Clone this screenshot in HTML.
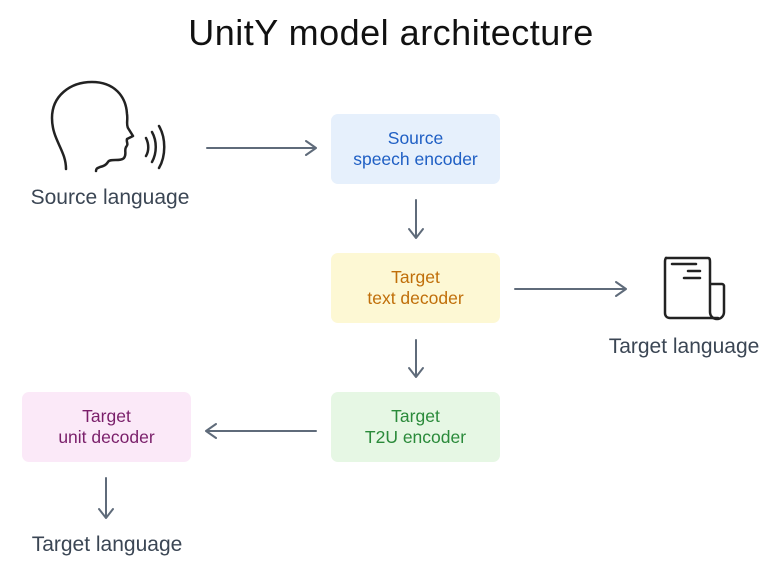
<!DOCTYPE html>
<html><head><meta charset="utf-8"><style>
body{margin:0;width:772px;height:571px;background:#fff;position:relative;overflow:hidden;font-family:"Liberation Sans",sans-serif}
.t{position:absolute;white-space:nowrap;text-align:center}
.box{position:absolute;width:169px;height:70px;border-radius:7px;display:flex;align-items:center;justify-content:center;text-align:center;font-size:17.5px;line-height:21px}
.lbl{position:absolute;font-size:21px;color:#3b4654;white-space:nowrap;transform:translateX(-50%)}
</style></head><body>
<div class="t" style="left:0;width:782px;top:12px;font-size:36px;color:#111;letter-spacing:0.5px">UnitY model architecture</div>
<div class="box" style="left:331px;top:114px;background:#e6f0fc;color:#1f5fc4">Source<br>speech encoder</div>
<div class="box" style="left:331px;top:253px;background:#fdf8d4;color:#c06f0a">Target<br>text decoder</div>
<div class="box" style="left:331px;top:392px;background:#e6f7e4;color:#2a8a3a">Target<br>T2U encoder</div>
<div class="box" style="left:22px;top:392px;background:#fbe9f8;color:#7a1f6a">Target<br>unit decoder</div>
<div class="lbl" style="left:110px;top:186px">Source language</div>
<div class="lbl" style="left:684px;top:335px">Target language</div>
<div class="lbl" style="left:107px;top:533px">Target language</div>
<svg width="772" height="571" style="position:absolute;left:0;top:0" fill="none" stroke="#5f6b7a" stroke-width="2" stroke-linecap="round" stroke-linejoin="round">
<path d="M207 148H316M306 141l10 7-10 7"/>
<path d="M416 200V238M409 229l7 9 7-9"/>
<path d="M515 289H626M616 282l10 7-10 7"/>
<path d="M416 340V377M409 368l7 9 7-9"/>
<path d="M316 431H206M216 424l-10 7 10 7"/>
<path d="M106 478V518M99 509l7 9 7-9"/>
<g stroke="#222" stroke-width="2.5">
<path d="M66 169C66 150 52 140 52 118C52 96 70 82 92 82C114 82 126 96 127 114C128 120 126 124 128 128L133 136L127 139C126 142 129 144 126 147C124 151 127 154 124 158C120 162 110 158 108 162C106 165 104 166 100 167C98 168 96 168 96 171"/>
<path d="M146 138C149 144 149 151 146 156"/>
<path d="M152 132C157 141 157 153 152 162"/>
<path d="M159 126C166 138 166 156 159 168"/>
</g>
<g stroke="#222" stroke-width="2.5">
<path d="M666 258C665 259 665 260 665 262V313C665 316 667 318 670 318H718"/>
<path d="M666 258H708C710 258 710 260 710 262V312C710 316 713 319 717 319C721 319 724 316 724 312V286C724 285 723 284 722 284H710"/>
<path d="M672 264H696M688 271H700M684 278H700"/>
</g>
</svg>
</body></html>
